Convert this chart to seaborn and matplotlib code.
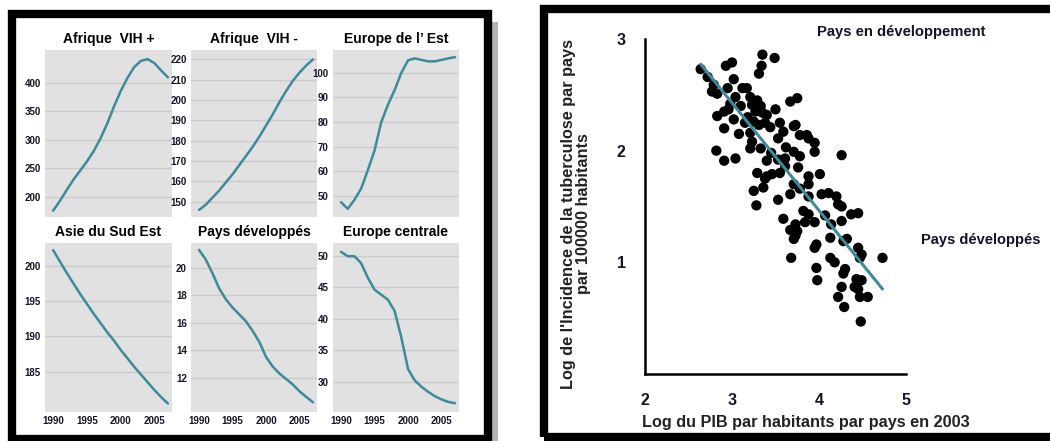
import matplotlib
matplotlib.use("Agg")
import matplotlib.pyplot as plt
import seaborn as sns
import pandas as pd
from matplotlib.patches import Rectangle

# --- data -----------------------------------------------------------------
years = list(range(1990, 2008))

afrique_vih_pos = [176, 193, 212, 230, 246, 262, 280, 302, 328, 358, 385, 408, 427, 438, 441, 434, 421, 409]
afrique_vih_neg = [146, 148.5, 152, 155.5, 159.5, 163.5, 168, 172.5, 177, 182, 187.5, 193, 199, 204.5, 209.5, 213.5, 217, 220]
europe_est = [47.5, 44.8, 48.5, 53, 60.5, 68.5, 80, 87, 93, 100, 105, 105.8, 105.2, 104.6, 104.6, 105.2, 105.8, 106.3]
asie_sud_est = [202.2, 200.6, 199.0, 197.5, 196.0, 194.6, 193.2, 191.9, 190.6, 189.4, 188.1, 186.9, 185.7, 184.6, 183.5, 182.4, 181.4, 180.5]
pays_developpes = [21.3, 20.6, 19.6, 18.5, 17.7, 17.1, 16.6, 16.1, 15.4, 14.6, 13.5, 12.8, 12.3, 11.9, 11.5, 11.0, 10.6, 10.2]
europe_centrale = [50.6, 49.9, 49.9, 48.8, 46.5, 44.6, 43.8, 43.0, 41.2, 37.0, 32.0, 30.2, 29.2, 28.4, 27.7, 27.2, 26.8, 26.6]

panel_titles = ["Afrique  VIH +", "Afrique  VIH -", "Europe de l\u2019 Est",
                "Asie du Sud Est", "Pays développés", "Europe centrale"]
panel_ticks = [[200, 250, 300, 350, 400],
               [150, 160, 170, 180, 190, 200, 210, 220],
               [50, 60, 70, 80, 90, 100],
               [185, 190, 195, 200],
               [12, 14, 16, 18, 20],
               [30, 35, 40, 45, 50]]
panel_ylims = [(165, 457), (142.5, 224.6), (41.5, 109.2),
               (179.3, 203.2), (9.5, 21.8), (25.2, 52)]
year_ticks = [1990, 1995, 2000, 2005]

pib_log = [2.64, 3.35, 3.49, 2.93, 3.00, 3.34, 3.31, 2.72, 2.79, 2.77, 2.83, 3.02, 2.95, 3.12,
           3.17, 3.04, 2.98, 3.21, 3.29, 3.23, 3.33, 3.27, 3.35, 3.40, 3.50, 2.91, 2.96, 2.83,
           3.02, 3.15, 3.25, 3.31, 3.38, 3.67, 3.75, 2.91, 3.44, 3.21, 3.23, 3.33, 3.21, 3.53,
           3.59, 3.71, 3.73, 3.78, 3.86, 3.88, 3.95, 3.95, 3.71, 3.78, 4.26, 2.82, 2.91, 3.04,
           3.40, 3.53, 3.61, 3.29, 3.40, 3.46, 3.55, 3.61, 3.76, 3.88, 4.01, 3.38, 3.71, 3.88,
           3.25, 3.36, 3.28, 3.53, 3.67, 3.78, 3.88, 4.03, 4.11, 4.20, 4.22, 4.26, 3.59, 3.73,
           3.82, 3.88, 3.84, 3.95, 3.67, 3.75, 3.71, 3.73, 4.07, 4.14, 4.26, 4.37, 4.45, 4.13,
           4.28, 4.32, 3.97, 3.95, 4.45, 4.49, 4.47, 3.68, 4.13, 4.18, 4.30, 4.28, 4.73, 3.97,
           3.98, 4.43, 4.49, 4.41, 4.45, 4.26, 4.22, 4.47, 4.56, 4.29, 4.48, 3.10, 3.18, 3.08,
           3.45, 3.62, 3.55]
tb_log = [2.73, 2.86, 2.83, 2.76, 2.79, 2.76, 2.69, 2.66, 2.59, 2.53, 2.51, 2.64, 2.56, 2.56,
          2.56, 2.48, 2.42, 2.48, 2.45, 2.41, 2.40, 2.35, 2.34, 2.32, 2.37, 2.35, 2.37, 2.31,
          2.28, 2.25, 2.26, 2.23, 2.25, 2.44, 2.47, 2.20, 2.21, 2.16, 2.08, 2.02, 2.02, 2.11,
          2.17, 2.22, 2.23, 2.14, 2.14, 2.11, 2.07, 1.99, 1.99, 1.95, 1.96, 2.00, 1.91, 1.93,
          1.91, 1.92, 1.93, 1.80, 1.77, 1.79, 1.80, 1.86, 1.85, 1.77, 1.79, 1.75, 1.70, 1.70,
          1.64, 1.67, 1.51, 1.56, 1.61, 1.66, 1.59, 1.61, 1.62, 1.59, 1.52, 1.50, 1.39, 1.34,
          1.46, 1.43, 1.36, 1.36, 1.29, 1.28, 1.21, 1.24, 1.42, 1.34, 1.37, 1.43, 1.44, 1.22,
          1.19, 1.21, 1.16, 1.13, 1.13, 1.07, 1.04, 1.04, 1.04, 1.00, 0.94, 0.90, 1.04, 0.95,
          0.84, 0.85, 0.84, 0.78, 0.76, 0.78, 0.69, 0.69, 0.69, 0.60, 0.47, 2.40, 2.30, 2.15,
          1.98, 2.03, 2.25]

# --- styling --------------------------------------------------------------
sns.set_style("white")
plt.rcParams["font.family"] = ["Liberation Sans", "DejaVu Sans"]

LINE_COLOR = "#3d8b9a"
PANEL_BG = "#e1e1e1"
GRID_COLOR = "#cbcbcb"
TEXT_COLOR = "#14142a"
NARROW = ["Liberation Sans Narrow", "Liberation Sans", "DejaVu Sans"]

W, H = 1050, 441
fig = plt.figure(figsize=(W / 100, H / 100), dpi=100)


def px_axes(x0, y0, x1, y1):
    """Axes from pixel box (top-left origin)."""
    return fig.add_axes([x0 / W, 1 - y1 / H, (x1 - x0) / W, (y1 - y0) / H])


def px_text(x, y, s, **kw):
    """Figure text at pixel position (top-left origin)."""
    return fig.text(x / W, 1 - y / H, s, **kw)


# --- left: six small line panels ------------------------------------------
series = [afrique_vih_pos, afrique_vih_neg, europe_est,
          asie_sud_est, pays_developpes, europe_centrale]
col_x = [(45, 172), (191, 317), (333, 459)]
row_y = [(50, 217), (243, 412)]

for i, values in enumerate(series):
    r, c = divmod(i, 3)
    ax = px_axes(col_x[c][0], row_y[r][0], col_x[c][1], row_y[r][1])
    df = pd.DataFrame({"year": years, "value": values})
    sns.lineplot(data=df, x="year", y="value", ax=ax, color=LINE_COLOR, linewidth=1.8)

    ax.set_facecolor(PANEL_BG)
    for s in ax.spines.values():
        s.set_visible(False)
    ax.set_xlim(1988.8, 2007.6)
    ax.set_ylim(*panel_ylims[i])
    ax.set_yticks(panel_ticks[i])
    ax.yaxis.grid(True, color=GRID_COLOR, linewidth=1)
    ax.xaxis.grid(False)
    ax.set_axisbelow(True)
    ax.set_xlabel("")
    ax.set_ylabel("")
    ax.set_xticks(year_ticks)
    if r == 0:
        ax.set_xticklabels([])
    ax.tick_params(length=0, pad=3)
    for lab in ax.get_xticklabels() + ax.get_yticklabels():
        lab.set_family(NARROW)
        lab.set_fontweight("bold")
        lab.set_fontsize(7)
        lab.set_color(TEXT_COLOR)
    ax.set_title(panel_titles[i], fontsize=10, fontweight="bold", color="black", pad=5)

# --- right: scatter with regression ---------------------------------------
axs = px_axes(645, 39, 906, 374)
sns.scatterplot(x=pib_log, y=tb_log, ax=axs, color="black", s=55, edgecolor="none")
sns.regplot(x=pib_log, y=tb_log, ax=axs, scatter=False, ci=None, truncate=True,
            line_kws={"color": LINE_COLOR, "linewidth": 2.2})
axs.set_xlim(2, 5)
axs.set_ylim(0, 3)
axs.set_xticks([2, 3, 4, 5])
axs.set_yticks([1, 2, 3])
sns.despine(ax=axs)
for s in ("left", "bottom"):
    axs.spines[s].set_linewidth(1.8)
    axs.spines[s].set_color("black")
axs.tick_params(direction="out", length=6, width=1.8, labelsize=11.5, pad=8, colors="black")
for lab in axs.get_xticklabels() + axs.get_yticklabels():
    lab.set_fontweight("bold")
    lab.set_color(TEXT_COLOR)

px_text(576, 214, "Log de l'Incidence de la tuberculose par pays\npar 100000 habitants",
        rotation=90, ha="center", va="center", fontsize=11.7, fontweight="bold",
        color="#222222", linespacing=1.0)
px_text(806, 423, "Log du PIB par habitants par pays en 2003",
        ha="center", va="center", fontsize=11.7, fontweight="bold", color="#222222")
px_text(901, 32, "Pays en développement", ha="center", va="center",
        fontsize=10.6, fontweight="bold", color=TEXT_COLOR)
px_text(981, 240, "Pays développés", ha="center", va="center",
        fontsize=10.5, fontweight="bold", color=TEXT_COLOR)

# --- frames ---------------------------------------------------------------
def frame(x0, y0, x1, y1, lw):
    fig.patches.append(Rectangle((x0 / W, 1 - y1 / H), (x1 - x0) / W, (y1 - y0) / H,
                                 transform=fig.transFigure, fill=False,
                                 edgecolor="black", linewidth=lw))

fig.patches.append(Rectangle((492 / W, 0), 6 / W, 1 - 22 / H, transform=fig.transFigure,
                             facecolor="#b5b5b5", edgecolor="none"))
frame(12, 13.5, 487.5, 439, 6)
frame(544, 9, 1056, 437, 6)

fig.savefig("out.png", dpi=100)
